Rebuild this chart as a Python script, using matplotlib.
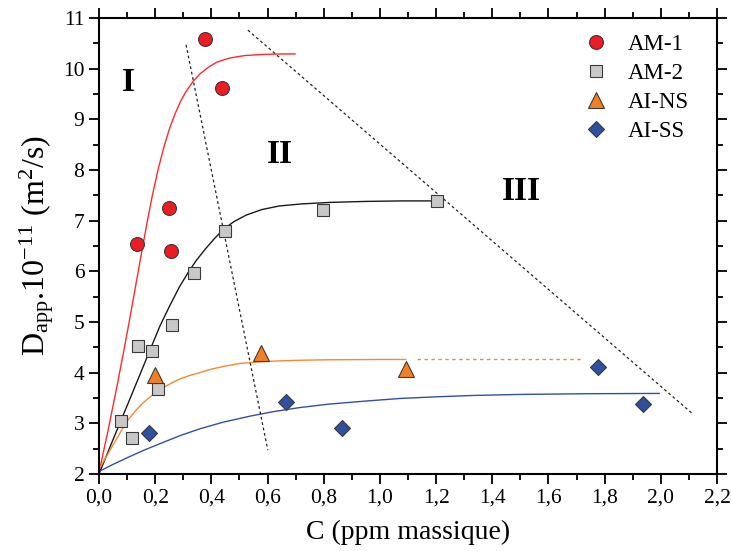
import matplotlib
matplotlib.use("Agg")
import matplotlib.pyplot as plt
from matplotlib.ticker import MultipleLocator, FixedLocator

plt.rcParams['font.family'] = ['Liberation Serif', 'DejaVu Serif']
plt.rcParams['mathtext.fontset'] = 'custom'
plt.rcParams['mathtext.rm'] = 'Liberation Serif'
plt.rcParams['mathtext.it'] = 'Liberation Serif:italic'

# ---- data points ----
am1_x = [0.137, 0.258, 0.248, 0.377, 0.438]
am1_y = [6.54, 6.41, 7.25, 10.59, 9.61]

am2_x = [0.078, 0.117, 0.138, 0.188, 0.209, 0.259, 0.338, 0.447, 0.796, 1.205]
am2_y = [3.05, 2.71, 4.53, 4.42, 3.67, 4.95, 5.97, 6.80, 7.22, 7.38]

ains_x = [0.199, 0.577, 1.092]
ains_y = [3.96, 4.39, 4.07]

aiss_x = [0.179, 0.664, 0.864, 1.775, 1.935]
aiss_y = [2.80, 3.42, 2.91, 4.12, 3.38]

# ---- fitted curves ----
fit_am1_x = [0.0, 0.03, 0.06, 0.09, 0.11, 0.13, 0.15, 0.17, 0.19, 0.21, 0.23, 0.25,
             0.27, 0.29, 0.31, 0.335, 0.36, 0.39, 0.42, 0.465, 0.52, 0.583, 0.64, 0.698]
fit_am1_y = [2.03, 2.8, 3.62, 4.48, 5.08, 5.7, 6.32, 6.93, 7.5, 8.0, 8.43, 8.8,
             9.1, 9.35, 9.55, 9.75, 9.9, 10.03, 10.13, 10.21, 10.26, 10.28, 10.29, 10.29]

fit_am2_x = [0.0, 0.05, 0.104, 0.15, 0.19, 0.216, 0.25, 0.287, 0.32, 0.347, 0.38, 0.41,
             0.441, 0.48, 0.524, 0.58, 0.642, 0.72, 0.82, 0.95, 1.08, 1.205]
fit_am2_y = [2.0, 2.68, 3.4, 4.02, 4.56, 4.91, 5.3, 5.70, 6.0, 6.22, 6.45, 6.64,
             6.82, 6.98, 7.11, 7.22, 7.29, 7.33, 7.36, 7.38, 7.39, 7.39]

fit_ains_x = [0.0, 0.03, 0.057, 0.08, 0.104, 0.13, 0.16, 0.199, 0.24, 0.281, 0.32, 0.358,
              0.40, 0.45, 0.50, 0.56, 0.63, 0.713, 0.8, 0.9, 1.0, 1.092]
fit_ains_y = [2.1, 2.38, 2.64, 2.86, 3.07, 3.25, 3.42, 3.6, 3.74, 3.86, 3.94, 4.0,
              4.07, 4.13, 4.18, 4.21, 4.23, 4.245, 4.253, 4.257, 4.26, 4.26]
ext_ains_x = [1.131, 1.716]
ext_ains_y = [4.26, 4.26]

fit_aiss_x = [0.0, 0.05, 0.104, 0.16, 0.222, 0.29, 0.358, 0.44, 0.536, 0.62, 0.713, 0.82,
              0.95, 1.07, 1.186, 1.33, 1.494, 1.75, 1.994]
fit_aiss_y = [2.05, 2.19, 2.33, 2.47, 2.61, 2.76, 2.89, 3.02, 3.14, 3.23, 3.31, 3.38,
              3.44, 3.49, 3.52, 3.55, 3.57, 3.585, 3.59]

# ---- regime boundaries ----
bound1_x = [0.31, 0.601]
bound1_y = [10.47, 2.47]
bound2_x = [0.530, 2.115]
bound2_y = [10.76, 3.18]

regions = ['I', 'II', 'III']
region_x = [0.104, 0.645, 1.503]
region_y = [9.73, 8.31, 7.57]

xticks = [0.0, 0.2, 0.4, 0.6, 0.8, 1.0, 1.2, 1.4, 1.6, 1.8, 2.0, 2.2]
xtick_labels = ['0,0', '0,2', '0,4', '0,6', '0,8', '1,0', '1,2', '1,4', '1,6', '1,8', '2,0', '2,2']
yticks = [2, 3, 4, 5, 6, 7, 8, 9, 10, 11]
ytick_labels = ['2', '3', '4', '5', '6', '7', '8', '9', '10', '11']

fig = plt.figure(figsize=(7.31, 5.51), dpi=100)
ax = fig.add_axes([99/731, 1-474/551, 618/731, 456/551])

ax.plot(fit_am1_x, fit_am1_y, color='#ff2a2a', lw=1.0)
ax.plot(fit_am2_x, fit_am2_y, color='#1a1a1a', lw=1.0)
ax.plot(fit_ains_x, fit_ains_y, color='#f7882f', lw=1.0)
ax.plot(ext_ains_x, ext_ains_y, color='#f7882f', lw=1.0, ls=(0, (2.5, 2.5)))
ax.plot(fit_aiss_x, fit_aiss_y, color='#3050a8', lw=1.0)

ax.plot(bound1_x, bound1_y, color='#222222', lw=0.9, ls=(0, (2.2, 2.2)))
ax.plot(bound2_x, bound2_y, color='#222222', lw=0.9, ls=(0, (2.2, 2.2)))

edge = '#3a3a3a'
ax.plot(am1_x, am1_y, 'o', ls='none', ms=10, mfc='#ec1c24', mec=edge, mew=0.8, label='AM-1')
ax.plot(am2_x, am2_y, 's', ls='none', ms=8.5, mfc='#c8c8c8', mec=edge, mew=0.8, label='AM-2')
ax.plot(ains_x, ains_y, '^', ls='none', ms=11, mfc='#f47f20', mec=edge, mew=0.8, label='AI-NS')
ax.plot(aiss_x, aiss_y, 'D', ls='none', ms=8.5, mfc='#2f4f9f', mec=edge, mew=0.8, label='AI-SS')

for t, x, y in zip(regions, region_x, region_y):
    ax.text(x, y, t, fontsize=24, fontweight='bold', ha='center', va='center')

ax.set_xlim(0, 2.2)
ax.set_ylim(2, 11)
ax.xaxis.set_major_locator(FixedLocator(xticks))
ax.set_xticklabels(xtick_labels)
ax.yaxis.set_major_locator(FixedLocator(yticks))
ax.set_yticklabels(ytick_labels)
ax.xaxis.set_minor_locator(MultipleLocator(0.1))
ax.yaxis.set_minor_locator(MultipleLocator(0.5))
ax.tick_params(which='both', direction='out', top=True, right=True, width=1.3, labelsize=15.5)
ax.tick_params(which='major', length=7)
ax.tick_params(which='minor', length=4)
for s in ax.spines.values():
    s.set_linewidth(1.5)

ax.set_xlabel('C (ppm massique)', fontsize=20, labelpad=9)
ax.set_ylabel(r'D$_{\mathrm{app}}$.10$^{\mathrm{-11}}$ (m$^{\mathrm{2}}$/s)', fontsize=23, labelpad=5)

leg = ax.legend(loc='upper left', bbox_to_anchor=(0.752, 0.985), frameon=False, fontsize=16.5,
                handletextpad=0.4, labelspacing=0.35, borderaxespad=0)

fig.savefig('out.png', dpi=100)
